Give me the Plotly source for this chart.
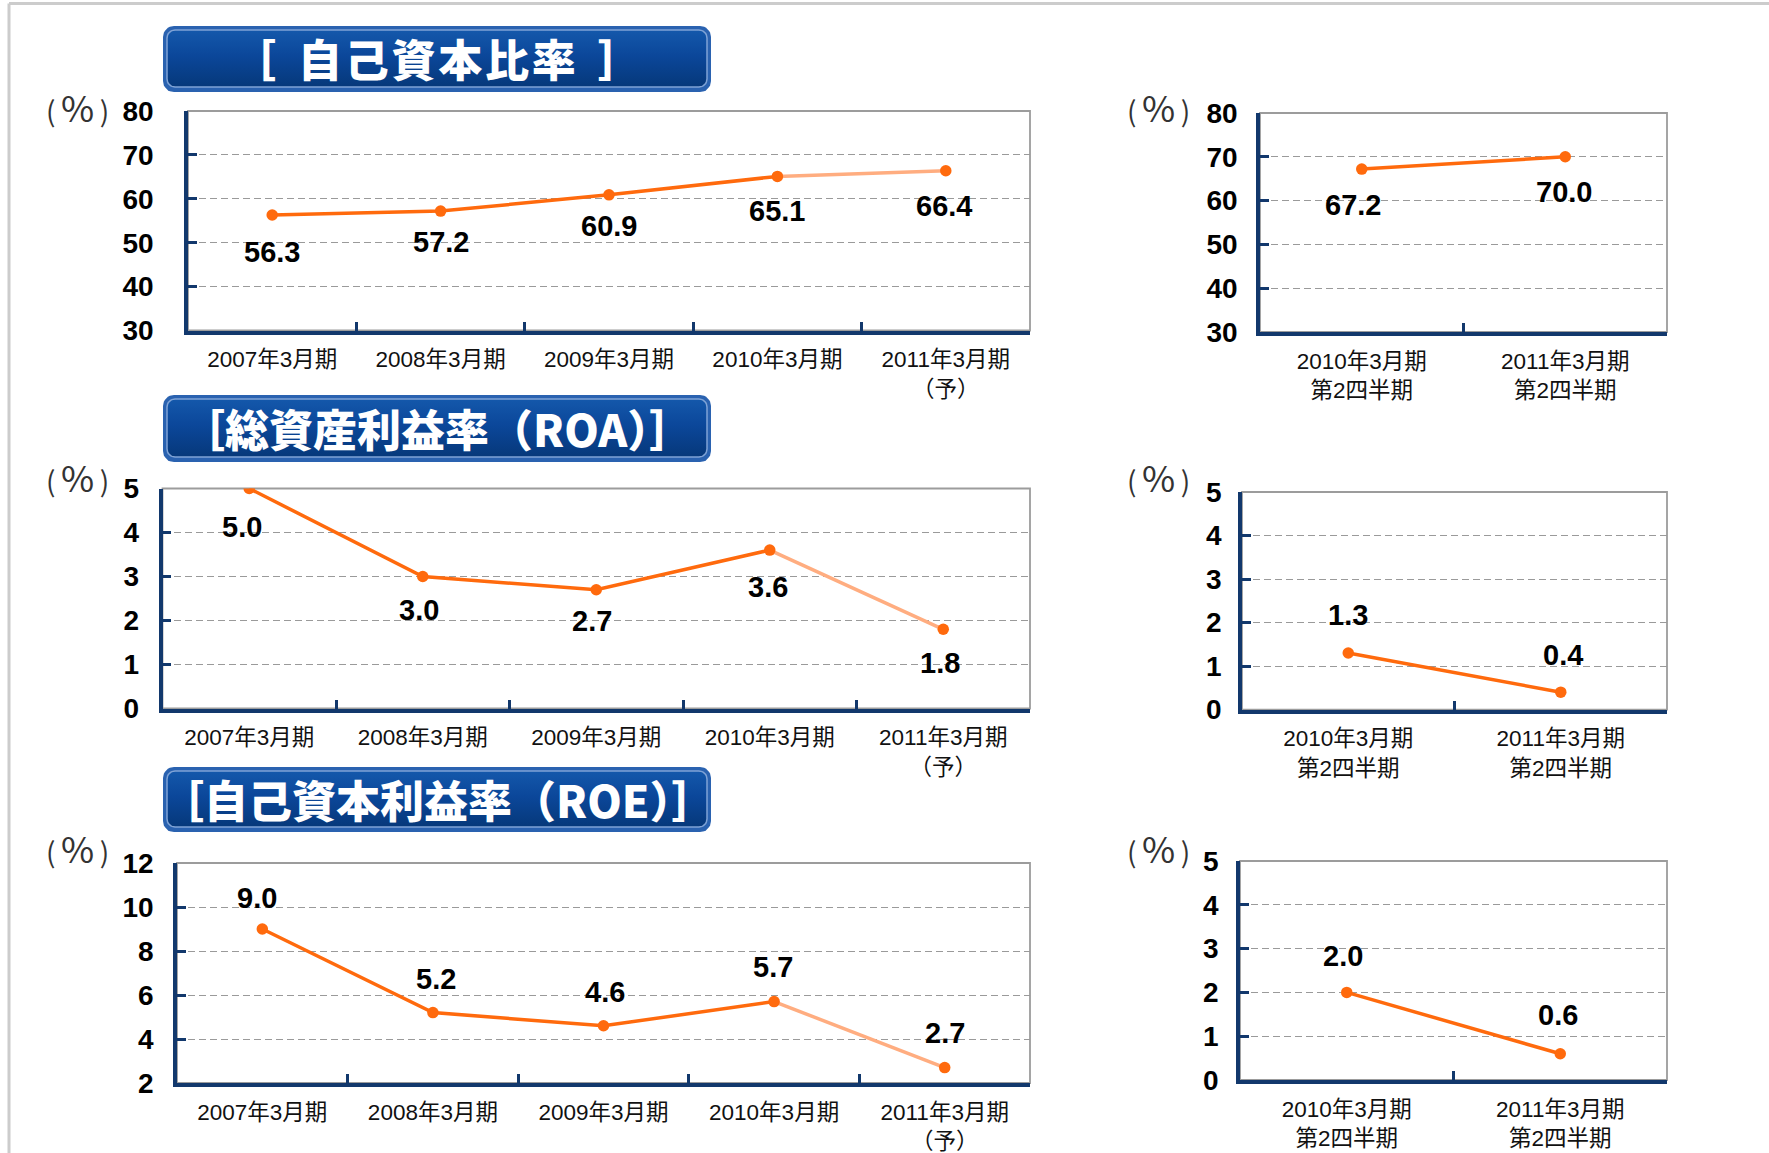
import math
import plotly.graph_objects as go

W, H = 1769, 1153

# ---------------- data ----------------
annual_periods = ["2007年3月期", "2008年3月期", "2009年3月期", "2010年3月期", "2011年3月期<br>（予）"]
half_periods = ["2010年3月期<br>第2四半期", "2011年3月期<br>第2四半期"]

equity_ratio_annual = [56.3, 57.2, 60.9, 65.1, 66.4]
equity_ratio_half = [67.2, 70.0]
roa_annual = [5.0, 3.0, 2.7, 3.6, 1.8]
roa_half = [1.3, 0.4]
roe_annual = [9.0, 5.2, 4.6, 5.7, 2.7]
roe_half = [2.0, 0.6]

equity_ticks = [30, 40, 50, 60, 70, 80]
roa_ticks = [0, 1, 2, 3, 4, 5]
roe_ticks = [2, 4, 6, 8, 10, 12]
half_ticks = [0, 1, 2, 3, 4, 5]

section_titles = [
    "［\u2002自\u200a己\u200a資\u200a本\u200a比\u200a率\u2002］",
    "［総資産利益率（ROA）］",
    "［自己資本利益率（ROE）］",
]
unit_label = "(\u2009<span style='font-size:36px'>%</span>\u2009)"

# ---------------- styling ----------------
NAVY = "#12386c"
ORANGE = "#ff6a0d"
ORANGE_LIGHT = "#ffad80"
GRID = "#9a9a9a"
BORDER = "#9c9c9c"
NUM_FONT = "Liberation Sans, Arial, sans-serif"
CAT_FONT = "Liberation Sans, Noto Sans CJK JP, sans-serif"
CJK_FONT = "Noto Sans CJK JP, sans-serif"


def px_x(x):
    return x / W


def px_y(y):
    return 1 - y / H


# each panel: pixel box (left, top, right, bottom), categories, values, axis ticks,
# data-label offsets (yshift, xshift) and whether the last point is a forecast
panels = [
    dict(box=(188, 111, 1030, 330.5), cats=annual_periods, vals=equity_ratio_annual,
         ticks=equity_ticks, shifts=[(-37, 0), (-31, 0), (-31, 0), (-35, 0), (-35, -2)],
         forecast=True, ystand=25, unit=(77, 106)),
    dict(box=(1260, 113, 1667, 332), cats=half_periods, vals=equity_ratio_half,
         ticks=equity_ticks, shifts=[(-36, -9), (-35, -1)],
         forecast=False, ystand=13, unit=(1158, 106)),
    dict(box=(162.5, 488.5, 1030, 708.5), cats=annual_periods, vals=roa_annual,
         ticks=roa_ticks, shifts=[(-38, -7), (-33, -4), (-31, -4), (-37, -2), (-34, -3)],
         forecast=True, ystand=14, unit=(77, 476)),
    dict(box=(1242, 492, 1667, 709.6), cats=half_periods, vals=roa_half,
         ticks=half_ticks, shifts=[(38, 0), (37, 2)],
         forecast=False, ystand=11, unit=(1158, 476)),
    dict(box=(177, 863, 1030, 1083), cats=annual_periods, vals=roe_annual,
         ticks=roe_ticks, shifts=[(31, -5), (34, 3), (34, 1), (35, -1), (35, 0)],
         forecast=True, ystand=14, unit=(77, 847)),
    dict(box=(1240, 861, 1667, 1080), cats=half_periods, vals=roe_half,
         ticks=half_ticks, shifts=[(36, -4), (39, -2)],
         forecast=False, ystand=12, unit=(1158, 847)),
]

title_boxes = [(163, 26, 711, 92), (163, 395, 711, 462), (163, 767, 711, 832)]

fig = go.Figure()
layout = dict(
    width=W, height=H,
    margin=dict(l=0, r=0, t=0, b=0, pad=0, autoexpand=False),
    paper_bgcolor="white",
    plot_bgcolor="rgba(0,0,0,0)",
    showlegend=False,
)
shapes = []
annotations = []

for i, p in enumerate(panels, start=1):
    xa, ya = f"x{i}", f"y{i}"
    left, top, right, bottom = p["box"]
    cats, vals, ticks = p["cats"], p["vals"], p["ticks"]
    n = len(cats)

    if p["forecast"]:
        fig.add_trace(go.Scatter(x=cats[-2:], y=vals[-2:], mode="lines",
                                 line=dict(color=ORANGE_LIGHT, width=3.5),
                                 xaxis=xa, yaxis=ya, hoverinfo="skip"))
        fig.add_trace(go.Scatter(x=cats[:-1], y=vals[:-1], mode="lines",
                                 line=dict(color=ORANGE, width=3.5),
                                 xaxis=xa, yaxis=ya, hoverinfo="skip"))
    else:
        fig.add_trace(go.Scatter(x=cats, y=vals, mode="lines",
                                 line=dict(color=ORANGE, width=3.5),
                                 xaxis=xa, yaxis=ya, hoverinfo="skip"))
    fig.add_trace(go.Scatter(x=cats, y=vals, mode="markers",
                             marker=dict(color=ORANGE, size=11.5),
                             xaxis=xa, yaxis=ya, hoverinfo="skip"))

    layout[f"xaxis{i}"] = dict(
        domain=[px_x(left), px_x(right)], anchor=ya,
        type="category", categoryorder="array", categoryarray=cats,
        range=[-0.5, n - 0.5], tickson="boundaries",
        ticks="inside", ticklen=9, tickwidth=3, tickcolor=NAVY,
        showline=True, linecolor=NAVY, linewidth=3.5,
        showgrid=False, zeroline=False, fixedrange=True, automargin=False,
        tickfont=dict(family=CAT_FONT, size=22.5, color="#111111"),
        ticklabelstandoff=6,
    )
    layout[f"yaxis{i}"] = dict(
        domain=[px_y(bottom), px_y(top)], anchor=xa,
        range=[ticks[0], ticks[-1]], tickvals=ticks,
        ticks="inside", ticklen=9, tickwidth=3, tickcolor=NAVY,
        showline=True, linecolor=NAVY, linewidth=3.5,
        showgrid=True, gridcolor=GRID, gridwidth=1, griddash="7px,4px",
        zeroline=False, fixedrange=True, automargin=False,
        tickfont=dict(family=NUM_FONT, size=28, color="black", weight="bold"),
        ticklabelstandoff=p["ystand"],
    )

    # grey frame on top and right of the plot area
    shapes.append(dict(type="rect", xref="paper", yref="paper",
                       x0=px_x(left), x1=px_x(right), y0=px_y(bottom), y1=px_y(top),
                       line=dict(color=BORDER, width=1.8), layer="below"))

    for c, v, (dy, dx) in zip(cats, vals, p["shifts"]):
        annotations.append(dict(
            x=c, y=v, xref=xa, yref=ya, text=f"{v:.1f}", showarrow=False,
            yshift=dy, xshift=dx,
            font=dict(family=NUM_FONT, size=29, color="black", weight="bold"),
        ))

    ux, uy = p["unit"]
    annotations.append(dict(
        x=px_x(ux), y=px_y(uy), xref="paper", yref="paper", text=unit_label,
        showarrow=False, xanchor="center", yanchor="middle",
        font=dict(family=CJK_FONT, size=28, color="#333333"),
    ))


# ---------------- section header buttons ----------------
def rounded_rect(x0, y0, x1, y1, r, steps=8):
    pts = []
    corners = [
        (x1 - r, y0 + r, -90, 0),
        (x1 - r, y1 - r, 0, 90),
        (x0 + r, y1 - r, 90, 180),
        (x0 + r, y0 + r, 180, 270),
    ]
    for cx, cy, a0, a1 in corners:
        for k in range(steps + 1):
            a = math.radians(a0 + (a1 - a0) * k / steps)
            pts.append((cx + r * math.cos(a), cy + r * math.sin(a)))
    pts.append(pts[0])
    xs = [q[0] for q in pts]
    ys = [H - q[1] for q in pts]
    return xs, ys


hdr = len(panels) + 1
layout[f"xaxis{hdr}"] = dict(domain=[0, 1], range=[0, W], visible=False, fixedrange=True,
                             anchor=f"y{hdr}", automargin=False)
layout[f"yaxis{hdr}"] = dict(domain=[0, 1], range=[0, H], visible=False, fixedrange=True,
                             anchor=f"x{hdr}", automargin=False)

for (x0, y0, x1, y1), title in zip(title_boxes, section_titles):
    xs, ys = rounded_rect(x0, y0, x1, y1, 11)
    fig.add_trace(go.Scatter(x=xs, y=ys, mode="lines", fill="toself",
                             fillcolor="#2a62b0", line=dict(width=0, color="#2a62b0"),
                             xaxis=f"x{hdr}", yaxis=f"y{hdr}", hoverinfo="skip"))
    xs, ys = rounded_rect(x0 + 4, y0 + 4, x1 - 4, y1 - 5, 8)
    fig.add_trace(go.Scatter(
        x=xs, y=ys, mode="lines", fill="toself",
        line=dict(width=1.5, color="#7fa3d6"),
        fillgradient=dict(type="vertical",
                          colorscale=[[0, "#06387a"], [0.55, "#0b479a"], [1, "#1458ab"]],
                          start=H - (y1 - 5), stop=H - (y0 + 4)),
        xaxis=f"x{hdr}", yaxis=f"y{hdr}", hoverinfo="skip"))
    annotations.append(dict(
        x=px_x((x0 + x1) / 2), y=px_y((y0 + y1) / 2 - 1), xref="paper", yref="paper",
        text=title, showarrow=False, xanchor="center", yanchor="middle",
        font=dict(family=CJK_FONT, size=44, color="white", weight=900),
    ))

# page frame lines
shapes.append(dict(type="line", xref="paper", yref="paper",
                   x0=px_x(9), x1=1, y0=px_y(3.5), y1=px_y(3.5),
                   line=dict(color="#cccccc", width=3)))
shapes.append(dict(type="line", xref="paper", yref="paper",
                   x0=px_x(9), x1=px_x(9), y0=0, y1=px_y(3.5),
                   line=dict(color="#cccccc", width=3)))

layout["shapes"] = shapes
layout["annotations"] = annotations
fig.update_layout(**layout)

fig.write_html("out.html")
